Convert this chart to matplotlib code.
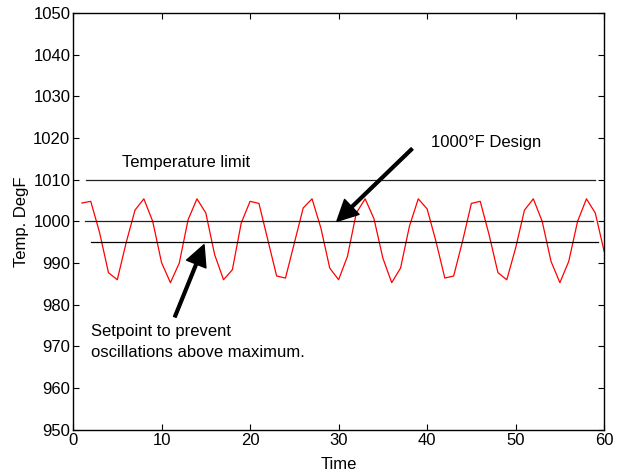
import numpy as np
import matplotlib.pyplot as plt

plt.rcParams['font.family'] = ['Liberation Sans', 'DejaVu Sans']

# temperature samples
time = np.arange(1, 61)
temp = [1004.4, 1004.8, 997.3, 987.7, 986.0, 994.9, 1002.7, 1005.4, 1000.0, 990.1,
        985.3, 990.0, 1000.4, 1005.4, 1002.0, 992.0, 986.0, 988.4, 999.6, 1004.8,
        1004.3, 995.6, 986.9, 986.4, 994.8, 1003.2, 1005.4, 998.4, 988.8, 986.0,
        991.6, 1002.0, 1005.4, 1000.6, 991.2, 985.3, 988.8, 998.8, 1005.4, 1003.0,
        995.2, 986.4, 986.9, 995.2, 1004.3, 1004.8, 996.8, 987.7, 986.0, 993.6,
        1002.7, 1005.4, 1000.0, 990.4, 985.3, 990.4, 1000.0, 1005.4, 1002.0, 992.8]

limit_y, limit_x = 1010, (1.5, 59.0)
design_y, design_x = 1000, (1.3, 58.7)
setpoint_y, setpoint_x = 995, (2.0, 59.3)

xticks = np.arange(0, 61, 10)
yticks = np.arange(950, 1051, 10)

fig = plt.figure(figsize=(6.19, 4.75), dpi=100)
ax = fig.add_axes([0.118, 0.095, 0.858, 0.878])

ax.plot(time, temp, color='red', linewidth=0.9)
ax.plot(limit_x, [limit_y, limit_y], color='#222222', linewidth=0.9)
ax.plot(design_x, [design_y, design_y], color='#222222', linewidth=0.9)
ax.plot(setpoint_x, [setpoint_y, setpoint_y], color='black', linewidth=0.9)

ax.text(5.5, 1014.1, 'Temperature limit', fontsize=12, va='center')
ax.text(40.4, 1019.0, '1000°F Design', fontsize=12, va='center')
ax.text(2.0, 971.1, 'Setpoint to prevent\noscillations above maximum.', fontsize=12,
        va='center', linespacing=1.55)

arrow = dict(facecolor='black', edgecolor='black', width=2.0, headwidth=15, headlength=15)
ax.annotate('', xy=(29.8, 1000.0), xytext=(38.3, 1017.4), arrowprops=arrow)
ax.annotate('', xy=(14.8, 994.4), xytext=(11.5, 977.1), arrowprops=arrow)

ax.set_xlim(0, 60)
ax.set_ylim(950, 1050)
ax.set_xticks(xticks)
ax.set_yticks(yticks)
ax.tick_params(direction='in', top=True, right=True, labelsize=12, length=4, pad=2)
ax.set_xlabel('Time', fontsize=12, labelpad=7)
ax.set_ylabel('Temp. DegF', fontsize=12, labelpad=3)
for s in ax.spines.values():
    s.set_linewidth(1.0)

fig.savefig('out.png', dpi=100)
